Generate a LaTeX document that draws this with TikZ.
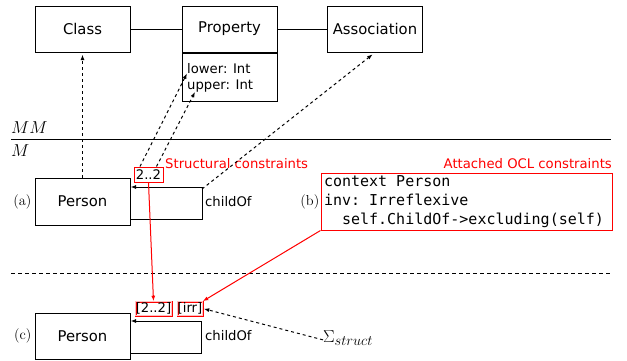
\documentclass[tikz,border=0pt]{standalone}
\usepackage{fontspec}
\setsansfont{DejaVu Sans}
\setmonofont{DejaVu Sans Mono}
\usetikzlibrary{arrows.meta}
\newcommand\msp{\leavevmode\hbox to \fontcharwd\font`x{\hss}}
\begin{document}
\begin{tikzpicture}[x=1pt,y=-1pt,
  lw/.style={line width=1pt},
  cls/.style={draw,lw,minimum width=95pt,minimum height=46pt,inner sep=0pt,font=\sffamily\fontsize{14.8}{17}\selectfont},
  small/.style={font=\sffamily\fontsize{13.2}{15}\selectfont},
  lab/.style={font=\fontsize{14.4}{17}\selectfont,inner sep=0pt},
  big/.style={font=\fontsize{17.5}{20}\selectfont,inner sep=0pt},
  tip/.style={-{Latex[length=5.5pt,width=4pt]}},
  dsh/.style={dash pattern=on 3pt off 3pt,lw,tip},
  redbox/.style={draw=red,lw,inner sep=0pt,small,minimum height=15pt},
  dredbox/.style={draw=red,line width=0.6pt,double=red!25,double distance=0.8pt,inner sep=0pt,small,minimum height=14pt},
  redarr/.style={red,lw,tip},
]
\useasboundingbox (0,0) rectangle (627,360);
% metamodel
\node[cls] (class) at (82.5,29) {Class};
\node[cls] (prop) at (229.5,29) {Property};
\node[draw,lw,minimum width=95pt,minimum height=48pt,inner sep=0pt,anchor=north] (propb) at (prop.south) {};
\node[cls] (assoc) at (375,29) {Association};
\draw[lw] (class) -- (prop);
\draw[lw] (prop) -- (assoc);
\node[small,anchor=base west,inner sep=0pt] (lower) at (187,73) {lower: Int};
\node[small,anchor=base west,inner sep=0pt] (upper) at (187,89) {upper: Int};
% separator
\coordinate (s1) at (11,139);
\coordinate (s2) at (611,139);
\draw[lw] (s1) -- (s2);
\node[big,anchor=base west] (mm) at (11,133) {$MM$};
\node[big,anchor=base west] (m) at (11,156) {$M$};
% model (a)
\node[cls,minimum height=47pt] (pa) at (82.5,201.5) {Person};
\coordinate (la1) at (202,187);
\coordinate (la2) at (202,219);
\draw[lw,tip] (pa.east |- la2) -- (la2) -- (la1) -- (pa.east |- la1);
\node[small,anchor=west,inner sep=0pt] (cha) at (205,202) {childOf};
\node[lab,anchor=east] (la) at ([xshift=-3pt]pa.west) {(a)};
\draw[dsh,shorten >=2pt] (pa.north) -- (class.south);
\node[redbox,minimum width=29pt] (c22) at (148.5,174.5) {2..2};
\node[small,red,anchor=west,inner sep=0pt] (sc) at (165,164) {Structural constraints};
\draw[dsh] ([xshift=-8.5pt]c22.north) -- (lower.south west);
\draw[dsh] ([xshift=8pt]c22.north) -- ([xshift=8pt]upper.south west);
\draw[dsh,shorten >=3pt] ([yshift=-2pt]la1) -- (assoc.south);
% OCL
\node[small,red,anchor=east,inner sep=0pt] (ac) at (612,164) {Attached OCL constraints};
\node[draw=red,lw,text width=285pt,inner xsep=3pt,inner ysep=0pt,minimum height=57pt,align=left,
  font=\ttfamily\fontsize{15}{19}\selectfont] (ocl) at (466.5,201.5)
  {context\msp Person\\inv:\msp Irreflexive\\\msp\msp self.ChildOf->excluding(self)};
\node[lab,anchor=east] (lb) at ([xshift=-1pt]ocl.west) {(b)};
% dashed separator
\coordinate (d1) at (11,273);
\coordinate (d2) at (611,273);
\draw[lw,dash pattern=on 4pt off 3pt] (d1) -- (d2);
% model (c)
\node[cls] (pc) at (82.5,336) {Person};
\coordinate (lc1) at (201,321);
\coordinate (lc2) at (201,353);
\draw[lw,tip] (pc.east |- lc2) -- (lc2) -- (lc1) -- (pc.east |- lc1);
\node[small,anchor=west,inner sep=0pt] (chc) at (205,336) {childOf};
\node[lab,anchor=east] (lc) at ([xshift=-3pt]pc.west) {(c)};
\node[dredbox,minimum width=36pt] (b22) at (153.5,308.5) {[2..2]};
\node[dredbox,minimum width=25pt] (irr) at (190,308.5) {[irr]};
\node[inner sep=0pt,anchor=base west] (sig) at (323,342.5)
  {\fontsize{18.5}{20}\selectfont$\Sigma$\raisebox{-2.5pt}{\fontsize{15}{16}\selectfont$struct$}};
\draw[redarr] (c22.south) -- (b22.north);
\draw[redarr] (ocl.south west) -- (irr.north east);
\draw[dsh,shorten >=1pt] ([yshift=-2pt]sig.west) -- (irr.east);
\end{tikzpicture}
\end{document}
